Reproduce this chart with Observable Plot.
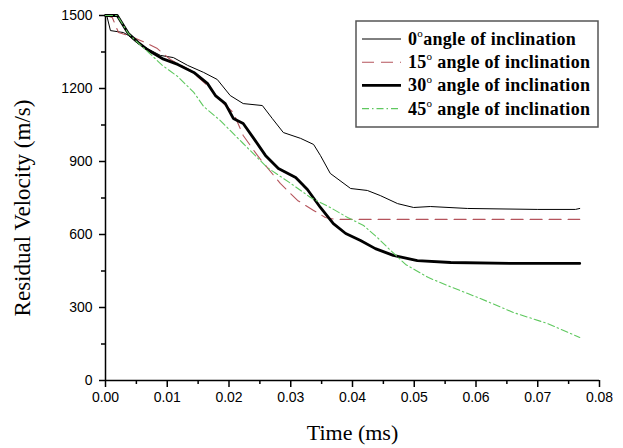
<!DOCTYPE html>
<html>
<head>
<meta charset="utf-8">
<script src="https://cdn.jsdelivr.net/npm/d3@7"></script>
<script src="https://cdn.jsdelivr.net/npm/@observablehq/plot@0.6"></script>
<style>
  html, body { margin: 0; padding: 0; background: #fff; }
</style>
</head>
<body>
<div id="chart"></div>
<script>
// ---- data (time in ms, residual velocity in m/s) ----
const seriesNames = ["0", "15", "30", "45"];
const legendSuffix = "angle of inclination";

const t0  = [0, 0.0002, 0.0008, 0.0029, 0.0037, 0.0052, 0.0089, 0.0110, 0.0133, 0.0159, 0.0181, 0.0202, 0.0223, 0.0254, 0.0270, 0.0288, 0.0316, 0.0337, 0.0348, 0.0364, 0.0397, 0.0424, 0.0445, 0.0473, 0.0499, 0.0526, 0.0586, 0.0700, 0.0761, 0.0768];
const v0  = [1500, 1500, 1438, 1430, 1418, 1385, 1336, 1327, 1295, 1266, 1237, 1171, 1138, 1130, 1077, 1019, 995, 970, 925, 851, 789, 781, 760, 727, 711, 715, 707, 703, 703, 707];

const t15 = [0, 0.0011, 0.0021, 0.0037, 0.0068, 0.0084, 0.0105, 0.0138, 0.0165, 0.0186, 0.0207, 0.0223, 0.0246, 0.0262, 0.0283, 0.0311, 0.0337, 0.0356, 0.0373, 0.0768];
const v15 = [1500, 1492, 1430, 1418, 1385, 1364, 1319, 1274, 1212, 1150, 1101, 1007, 925, 875, 810, 740, 699, 670, 662, 662];

const t30 = [0, 0.0019, 0.0037, 0.0053, 0.0070, 0.0092, 0.0117, 0.0143, 0.0165, 0.0178, 0.0194, 0.0207, 0.0223, 0.0240, 0.0259, 0.0280, 0.0308, 0.0327, 0.0348, 0.0369, 0.0389, 0.0413, 0.0437, 0.0466, 0.0505, 0.0559, 0.0661, 0.0768];
const v30 = [1500, 1500, 1426, 1389, 1356, 1323, 1299, 1266, 1221, 1171, 1138, 1077, 1056, 995, 925, 871, 834, 785, 711, 645, 604, 575, 542, 514, 493, 485, 481, 481];

const t45 = [0, 0.0019, 0.0037, 0.0052, 0.0070, 0.0092, 0.0117, 0.0143, 0.0159, 0.0186, 0.0223, 0.0262, 0.0300, 0.0332, 0.0364, 0.0392, 0.0418, 0.0440, 0.0462, 0.0486, 0.0523, 0.0554, 0.0607, 0.0661, 0.0716, 0.0768];
const v45 = [1500, 1500, 1426, 1389, 1348, 1295, 1249, 1184, 1126, 1068, 974, 875, 810, 752, 711, 670, 637, 588, 534, 477, 423, 390, 337, 279, 234, 177];

const xTicks = [0, 0.01, 0.02, 0.03, 0.04, 0.05, 0.06, 0.07, 0.08];
const xMinor = [0.005, 0.015, 0.025, 0.035, 0.045, 0.055, 0.065, 0.075];
const yTicks = [0, 300, 600, 900, 1200, 1500];
const yMinor = [150, 450, 750, 1050, 1350];
const xLabel = "Time (ms)";
const yLabel = "Residual Velocity (m/s)";

// ---- styles ----
const styles = [
  {stroke: "#000000", strokeWidth: 1, dash: null},
  {stroke: "#b5545c", strokeWidth: 1.1, dash: "12,7"},
  {stroke: "#000000", strokeWidth: 2.8, dash: null},
  {stroke: "#5fc85f", strokeWidth: 1.1, dash: "7,3,1.5,3"}
];

const toRows = (t, v) => t.map((d, i) => ({t: d, v: v[i]}));
const data = [toRows(t0, v0), toRows(t15, v15), toRows(t30, v30), toRows(t45, v45)];

const serif = "'Liberation Serif', 'Times New Roman', serif";

const svg = Plot.plot({
  width: 623,
  height: 448,
  marginLeft: 105,
  marginRight: 24,
  marginTop: 15,
  marginBottom: 68,
  style: {fontFamily: "'Liberation Sans', Arial, sans-serif", fontSize: "14px", color: "#000", background: "#fff"},
  x: {domain: [0, 0.08], nice: false},
  y: {domain: [0, 1500], nice: false},
  marks: [
    Plot.axisX({ticks: xTicks, tickSize: 7, tickPadding: 5, tickFormat: d3.format(".2f"), label: null, strokeWidth: 1.5}),
    Plot.axisX({ticks: xMinor, tickSize: 4, text: null, label: null, strokeWidth: 1.5}),
    Plot.axisY({ticks: yTicks, tickSize: 6, tickPadding: 7, tickFormat: d3.format("d"), label: null, strokeWidth: 1.5}),
    Plot.axisY({ticks: yMinor, tickSize: 4, text: null, label: null, strokeWidth: 1.5}),
    Plot.ruleX([0], {strokeWidth: 1.5}),
    Plot.ruleY([0], {strokeWidth: 1.5}),
    ...data.map((rows, i) => Plot.line(rows, {
      x: "t", y: "v",
      stroke: styles[i].stroke,
      strokeWidth: styles[i].strokeWidth,
      strokeDasharray: styles[i].dash,
      strokeLinejoin: "round"
    })),
    Plot.text([xLabel], {frameAnchor: "bottom", text: d => d, dy: 52, fontFamily: serif, fontSize: 22, lineAnchor: "middle", textAnchor: "middle"}),
    Plot.text([yLabel], {frameAnchor: "left", text: d => d, dx: -83, dy: 10, rotate: -90, fontFamily: serif, fontSize: 23, lineAnchor: "middle", textAnchor: "middle"})
  ]
});

// ---- legend ----
const lg = d3.select(svg).append("g").attr("class", "legend");
lg.append("rect")
  .attr("x", 356).attr("y", 21).attr("width", 242).attr("height", 106)
  .attr("fill", "#fff").attr("stroke", "#555").attr("stroke-width", 1.5);
seriesNames.forEach((name, i) => {
  const yl = 39 + i * 23.2;
  const s = styles[i];
  lg.append("line")
    .attr("x1", 362).attr("x2", 401).attr("y1", yl).attr("y2", yl)
    .attr("stroke", s.stroke).attr("stroke-width", s.strokeWidth)
    .attr("stroke-dasharray", s.dash);
  const txt = lg.append("text")
    .attr("x", 408).attr("y", yl + 6)
    .attr("text-anchor", "start")
    .attr("font-family", serif).attr("font-size", 18).attr("font-weight", "bold")
    .attr("letter-spacing", 0.3)
    .attr("fill", "#000");
  txt.append("tspan").text(name);
  txt.append("tspan").attr("font-size", 11).attr("font-weight", "normal").attr("dy", -8).text("o");
  txt.append("tspan").attr("dy", 8).text((i === 0 ? "" : " ") + legendSuffix);
});

document.getElementById("chart").appendChild(svg);
</script>
</body>
</html>
